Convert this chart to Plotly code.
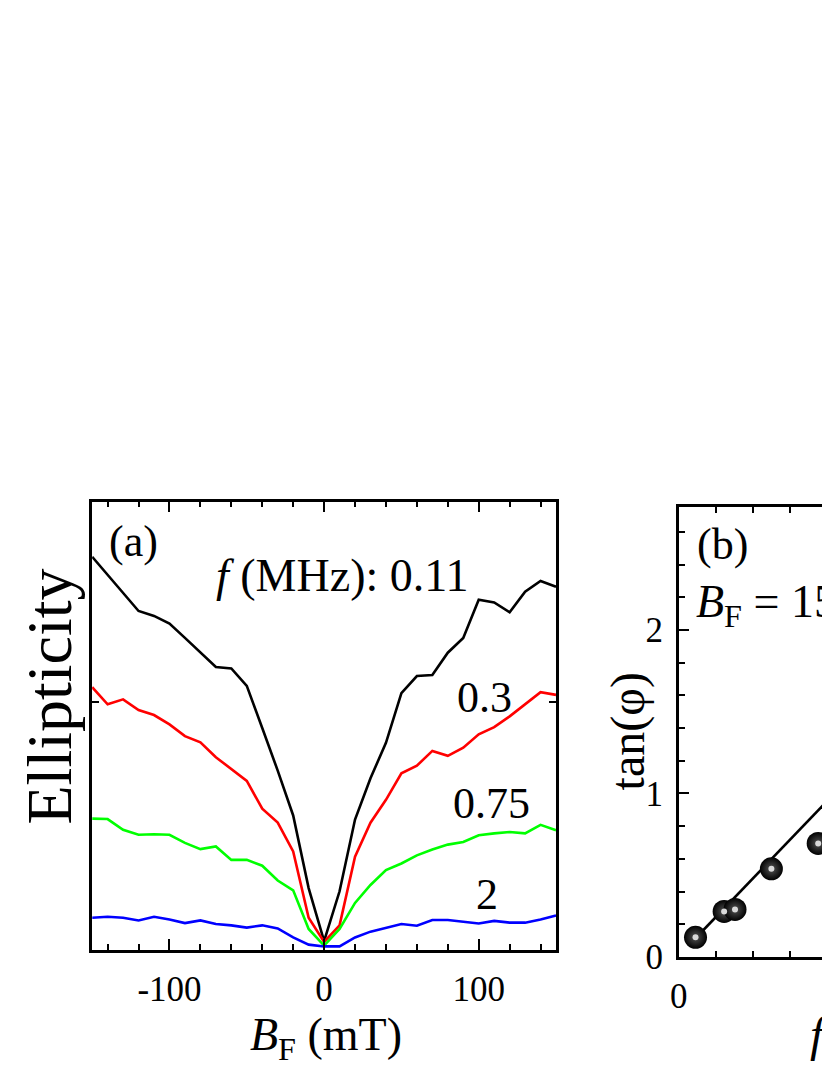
import plotly.graph_objects as go

# panel (a): ellipticity vs B_F for several modulation frequencies
b_field = [-150, -140, -130, -120, -110, -100, -90, -80, -70, -60, -50, -40, -30, -20, -10, 0,
           10, 20, 30, 40, 50, 60, 70, 80, 90, 100, 110, 120, 130, 140, 150]
ell_011 = [87.7, 83.6, 79.7, 75.6, 74.5, 72.8, 69.6, 66.4, 63.1, 62.8, 58.9, 49.5, 40.0, 30.0, 13.8, 2.0,
           13.1, 29.1, 38.3, 46.2, 57.3, 61.1, 61.3, 66.3, 69.6, 78.1, 77.5, 75.3, 79.9, 82.3, 81.0]
ell_03 = [58.6, 54.8, 55.9, 53.5, 52.4, 50.3, 47.7, 46.3, 43.0, 40.4, 37.7, 31.5, 28.4, 22.0, 7.2, 1.8,
          5.5, 20.8, 28.4, 33.5, 39.4, 41.1, 44.4, 43.3, 45.1, 48.1, 49.7, 52.1, 54.7, 57.5, 56.9]
ell_075 = [29.3, 29.2, 26.8, 25.7, 25.8, 25.7, 23.9, 22.5, 23.1, 20.1, 20.1, 18.8, 15.5, 13.3, 4.7, 1.0,
           4.7, 10.5, 14.5, 17.8, 19.3, 21.1, 22.4, 23.5, 24.1, 25.6, 26.0, 26.3, 26.0, 27.9, 26.7]
ell_2 = [7.2, 7.4, 7.2, 6.6, 7.4, 6.8, 6.0, 6.6, 5.8, 5.5, 5.0, 5.5, 4.8, 2.8, 1.2, 0.8,
         0.8, 2.8, 4.1, 5.0, 5.8, 5.4, 6.7, 6.7, 6.3, 5.9, 6.5, 6.1, 6.1, 6.8, 7.7]
curves = [(ell_011, "black"), (ell_03, "red"), (ell_075, "#00ff00"), (ell_2, "blue")]

# panel (b): tan(phi) vs modulation frequency
freq = [0.113, 0.305, 0.378, 0.622, 0.936]
tan_phi = [0.12, 0.278, 0.29, 0.539, 0.694]
fit_freq = [0.113, 1.3]
fit_tan = [0.114, 1.242]

FONT = "Liberation Serif, Times New Roman, serif"
OFF = 8  # page body margin
W, H = 830 - OFF, 1075 - OFF


def fx(px):
    return (px - OFF) / W


def fy(py):
    return 1 - (py - OFF) / H


fig = go.Figure()

for vals, col in curves:
    fig.add_trace(go.Scatter(x=b_field, y=vals, mode="lines", line=dict(color=col, width=2.6),
                             xaxis="x", yaxis="y", showlegend=False))

fig.add_trace(go.Scatter(x=fit_freq, y=fit_tan, mode="lines", line=dict(color="black", width=2.6),
                         xaxis="x2", yaxis="y2", showlegend=False))
fig.add_trace(go.Scatter(x=freq, y=tan_phi, mode="markers",
                         marker=dict(size=23, color="black",
                                     gradient=dict(type="radial", color="#555555")),
                         xaxis="x2", yaxis="y2", showlegend=False))
fig.add_trace(go.Scatter(x=freq, y=tan_phi, mode="markers",
                         marker=dict(size=6, color="#d8d8d8"),
                         xaxis="x2", yaxis="y2", showlegend=False))

axis_common = dict(showline=True, linecolor="black", linewidth=2.6, showgrid=False, zeroline=False,
                   ticks="inside", tickcolor="black", tickwidth=2.2,
                   tickfont=dict(family=FONT, size=35, color="black"))
minor_common = dict(ticks="inside", tickcolor="black", tickwidth=2.2, showgrid=False)

fig.update_layout(
    width=W, height=H,
    margin=dict(l=0, r=0, t=0, b=0),
    paper_bgcolor="white", plot_bgcolor="white",
    xaxis=dict(axis_common, domain=[fx(84), fx(553)], range=[-150, 150], mirror="ticks",
               tickvals=[-100, 0, 100], ticktext=["-100", "0", "100"], ticklen=11, ticklabelstandoff=6,
               minor=dict(minor_common, dtick=20, tick0=0, ticklen=6)),
    yaxis=dict(axis_common, domain=[fy(968), fy(511)], range=[0, 100], mirror="ticks",
               tickvals=[55.4], showticklabels=False, ticklen=7),
    xaxis2=dict(axis_common, domain=[fx(677), 1.0], range=[0, (830 - 677) / 150.7], mirror="ticks",
                anchor="y2", tickvals=[0], ticklen=6, ticklabelstandoff=6,
                minor=dict(minor_common, dtick=0.25, tick0=0, ticklen=6)),
    yaxis2=dict(axis_common, domain=[fy(975), fy(517)], range=[0, 2.75], mirror=False,
                anchor="x2", tickvals=[0, 1, 2], ticklen=11, ticklabelstandoff=6,
                minor=dict(minor_common, dtick=0.2, tick0=0, ticklen=7)),
)


def note(text, px, py, size, xanchor="center", angle=0):
    fig.add_annotation(text=text, xref="paper", yref="paper", x=fx(px), y=fy(py),
                       xanchor=xanchor, yanchor="middle", showarrow=False, textangle=angle,
                       font=dict(family=FONT, size=size, color="black"))


note("(a)", 126, 552, 44)
note("<i>f</i> (MHz): 0.11", 207, 586, 46, xanchor="left")
note("0.3", 481, 711, 44)
note("0.75", 488, 819, 44)
note("2", 483, 911, 44)
note("Ellipticity", 41, 710, 64, angle=-90)
note("<i>B</i><sub>F</sub> (mT)", 320, 1058, 46)

note("(b)", 721, 555, 44)
note("<i>B</i><sub>F</sub> = 150 mT", 692, 616, 46, xanchor="left")
note("tan(φ)", 626, 745, 48, angle=-90)
note("<i>f</i> (MHz)", 808, 1055, 48, xanchor="left")

fig.write_html("out.html")
